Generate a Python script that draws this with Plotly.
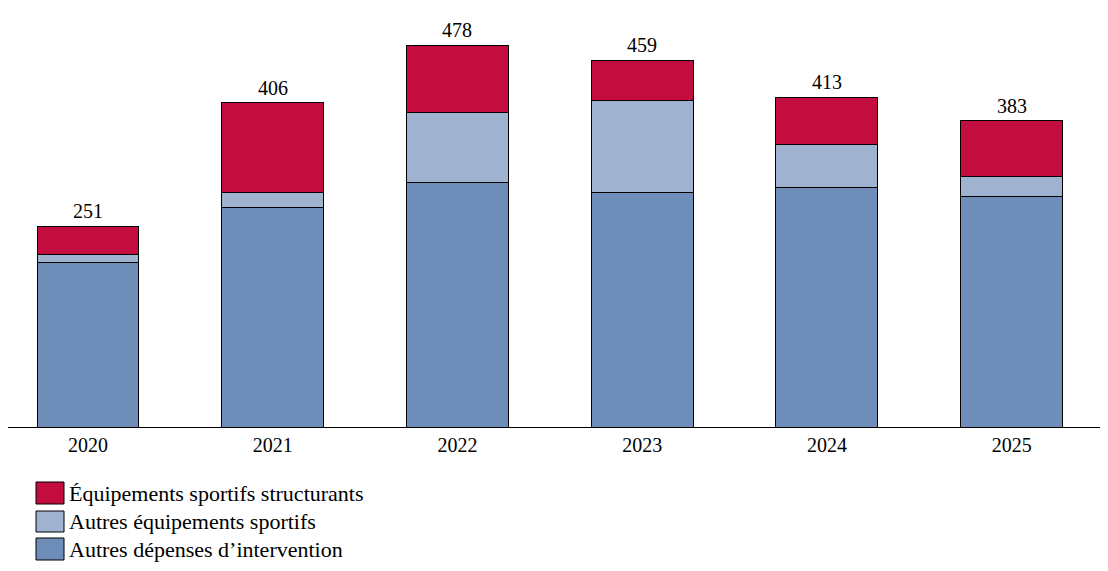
import plotly.graph_objects as go

# Data
years = ["2020", "2021", "2022", "2023", "2024", "2025"]
autres_depenses = [206, 275, 306, 294, 300, 288]
autres_equipements = [10, 18, 88, 115, 53, 25]
equipements_structurants = [35, 113, 84, 50, 60, 70]

series_names = [
    "Autres dépenses d’intervention",
    "Autres équipements sportifs",
    "Équipements sportifs structurants",
]
series_colors = ["#6E8DB8", "#9FB2CF", "#C30D3E"]

totals = [a + b + c for a, b, c in zip(autres_depenses, autres_equipements, equipements_structurants)]

FONT = "Liberation Serif"

# The page has an 8px body margin, so the figure is drawn 8px smaller
FIG_W, FIG_H = 1100, 563
PLOT_W, PLOT_H = 1096, 419

fig = go.Figure()
for name, values, color in zip(
    series_names,
    [autres_depenses, autres_equipements, equipements_structurants],
    series_colors,
):
    fig.add_trace(
        go.Bar(
            x=years,
            y=values,
            name=name,
            width=0.552,
            marker=dict(color=color, line=dict(color="black", width=1)),
            hoverinfo="x+y+name",
            showlegend=False,
        )
    )

# Totals above the bars (x given as category index)
for i, total in enumerate(totals):
    fig.add_annotation(
        x=i, y=total, text=str(total),
        showarrow=False, yanchor="bottom", yshift=2,
        font=dict(family=FONT, size=20, color="black"),
    )

# Legend drawn by hand, so the swatches have the reference size
legend_rows = [(474, 496), (503, 524), (530, 552)]
for (top, bottom), name, color in zip(
    legend_rows, series_names[::-1], series_colors[::-1]
):
    fig.add_shape(
        type="rect", xref="paper", yref="paper",
        x0=28 / PLOT_W, x1=56 / PLOT_W,
        y0=(PLOT_H - bottom) / PLOT_H, y1=(PLOT_H - top) / PLOT_H,
        fillcolor=color, line=dict(color="black", width=1),
    )
    fig.add_annotation(
        xref="paper", yref="paper",
        x=59 / PLOT_W, y=(PLOT_H - (top + bottom) / 2) / PLOT_H,
        text=name, showarrow=False, xanchor="left", yanchor="middle",
        font=dict(family=FONT, size=22, color="black"),
    )

fig.update_layout(
    barmode="stack",
    width=FIG_W,
    height=FIG_H,
    margin=dict(l=0, r=FIG_W - PLOT_W, t=0, b=FIG_H - PLOT_H),
    paper_bgcolor="white",
    plot_bgcolor="white",
    font=dict(family=FONT, size=20, color="black"),
    xaxis=dict(
        type="category",
        range=[-0.433, 5.5],
        showline=True, linecolor="black", linewidth=1,
        ticks="", showgrid=False, zeroline=False,
        tickfont=dict(family=FONT, size=20, color="black"),
    ),
    yaxis=dict(
        range=[0, 524.4],
        visible=False, showgrid=False, zeroline=False,
    ),
)

fig.write_html("out.html")
